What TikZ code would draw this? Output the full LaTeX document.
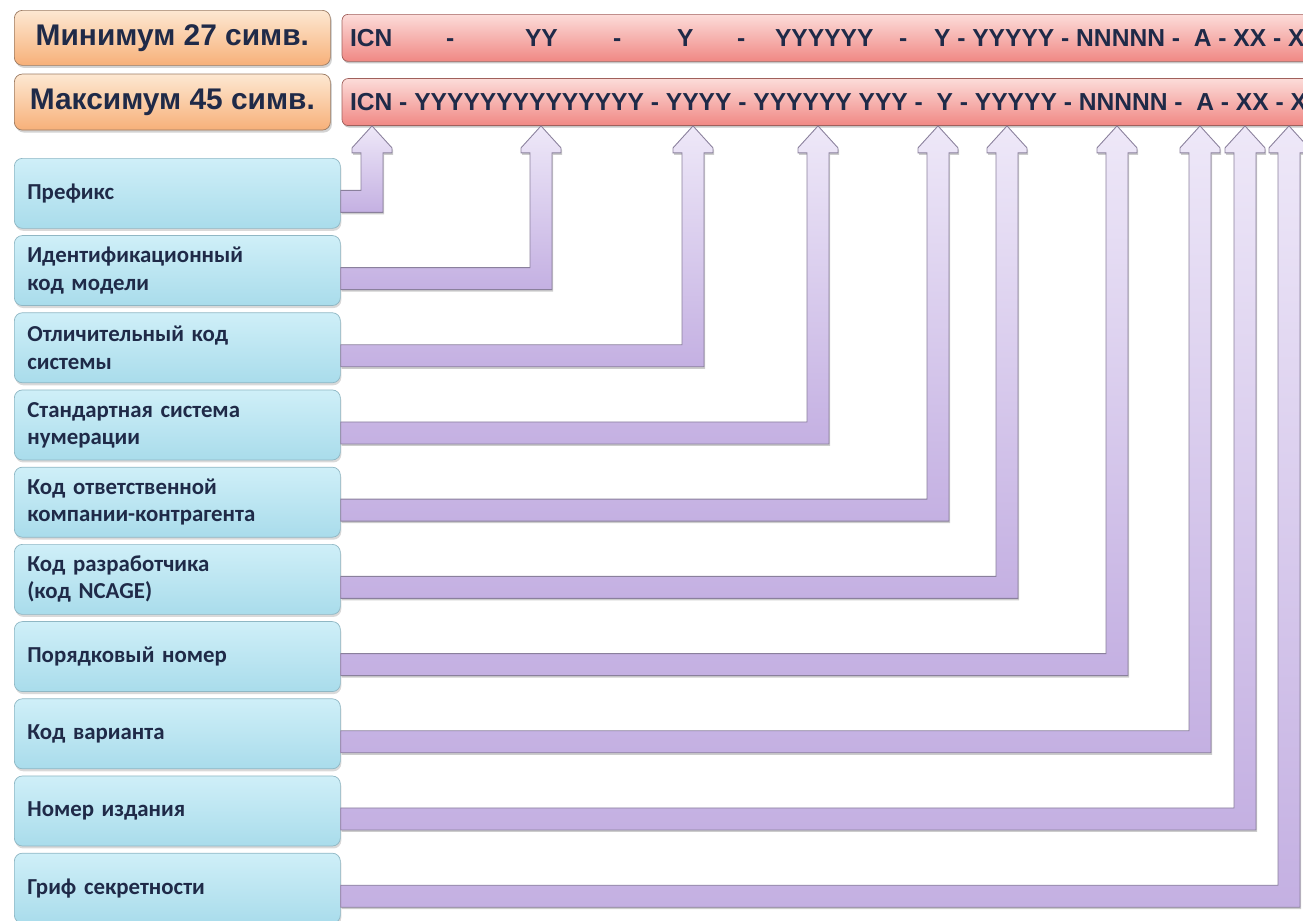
\documentclass[tikz,border=0pt]{standalone}
\usepackage{fontspec}
\setmainfont{Liberation Sans}
\newfontfamily\calibri[WordSpace=0.8]{Carlito}
\usetikzlibrary{positioning,calc,shadows}

\definecolor{inkblue}{HTML}{1F2A48}
\definecolor{lenline}{HTML}{9C7B62}
\definecolor{lentop}{HTML}{FDE8D2}
\definecolor{lenbot}{HTML}{F7B079}
\definecolor{codeline}{HTML}{A0605C}
\definecolor{codetop}{HTML}{FCDCD9}
\definecolor{codebot}{HTML}{F08884}
\definecolor{partline}{HTML}{8FB7C4}
\definecolor{parttop}{HTML}{CFEFF8}
\definecolor{partbot}{HTML}{A9DCEB}
\definecolor{arrline}{HTML}{8A809C}
\definecolor{arrtop}{HTML}{EEE8F8}
\definecolor{arrbot}{HTML}{C4B0E2}

\begin{document}
\begin{tikzpicture}[x=0.2mm, y=-0.2mm,
    lenbox/.style={draw=lenline, rounded corners=1.6mm, top color=lentop, bottom color=lenbot,
      minimum width=63.2mm, minimum height=11mm, text=inkblue,
      font=\fontsize{17}{20}\selectfont\bfseries,
      drop shadow={shadow xshift=0.3mm, shadow yshift=-0.5mm, opacity=0.35}},
    codebar/.style={draw=codeline, rounded corners=1.2mm, top color=codetop, bottom color=codebot,
      minimum width=197.8mm, minimum height=9.4mm, inner xsep=1.6mm, text=inkblue,
      font=\fontsize{14}{16}\selectfont\bfseries,
      drop shadow={shadow xshift=0.2mm, shadow yshift=-0.4mm, opacity=0.45}},
    partbox/.style={draw=partline, rounded corners=1.6mm, top color=parttop, bottom color=partbot,
      minimum height=14mm, text width=60mm, align=left, inner xsep=2.6mm, text=inkblue,
      font=\calibri\bfseries\fontsize{13}{15.4}\selectfont,
      drop shadow={shadow xshift=0.2mm, shadow yshift=-0.5mm, opacity=0.3}},
    icnarrow/.style={draw=arrline, line width=0.5pt, top color=arrtop, bottom color=arrbot,
      drop shadow={shadow xshift=0.2mm, shadow yshift=-0.4mm, opacity=0.4},
      to path={let \p1=(\tikztostart), \p2=(\tikztotarget) in
        (\x1,\y1+0.6mm) -- (\x2-2.2mm,\y1+0.6mm) -- (\x2-2.2mm,\y2-5.4mm) -- (\x2-4mm,\y2-5.4mm)
        -- (\x2-4mm,\y2-4.4mm) -- (\x2,\y2) -- (\x2+4mm,\y2-4.4mm) -- (\x2+4mm,\y2-5.4mm)
        -- (\x2+2.2mm,\y2-5.4mm) -- (\x2+2.2mm,\y1-3.8mm) -- (\x1,\y1-3.8mm) -- cycle}}]
  \useasboundingbox (0,0) rectangle (1303,920);

  % length of the code
  \node[lenbox, anchor=north west] (min) at (14,10) {Минимум 27 симв.};
  \node[lenbox, below=1.6mm of min, minimum height=11.2mm] (max) {Максимум 45 симв.};
  \node[codebar, right=2.2mm of min] (code1) {\makebox[194.6mm][l]{\rlap{ICN}\hspace{19.2mm}\rlap{-}\hspace{15.8mm}\rlap{YY}\hspace{17.6mm}\rlap{-}\hspace{12.8mm}\rlap{Y}\hspace{12mm}\rlap{-}\hspace{7.6mm}\rlap{YYYYYY}\hspace{24.8mm}\rlap{-}\hspace{7mm}Y - YYYYY - NNNNN -~ A - XX - X}};
  \node[codebar, right=2.2mm of max] (code2) {\makebox[194.6mm][l]{ICN - YYYYYYYYYYYYYY - YYYY - YYYYYY YYY -~ Y - YYYYY - NNNNN -~ A - XX - X}};

  % parts of the code
  \node[partbox, anchor=north west] (prefix) at (14,158) {Префикс};
  \node[partbox, below=1.3mm of prefix] (model) {Идентификационный\\код модели};
  \node[partbox, below=1.3mm of model] (sysdiff) {Отличительный код\\системы};
  \node[partbox, below=1.3mm of sysdiff] (sns) {Стандартная система\\нумерации};
  \node[partbox, below=1.3mm of sns] (rpc) {Код ответственной\\компании-контрагента};
  \node[partbox, below=1.3mm of rpc] (orig) {Код разработчика\\(код NCAGE)};
  \node[partbox, below=1.3mm of orig] (uid) {Порядковый номер};
  \node[partbox, below=1.3mm of uid] (variant) {Код варианта};
  \node[partbox, below=1.3mm of variant] (issue) {Номер издания};
  \node[partbox, below=1.3mm of issue] (security) {Гриф секретности};

  % where the arrows point
  \coordinate (at-prefix) at (372,0 |- code2.south);
  \coordinate (at-model) at (541,0 |- code2.south);
  \coordinate (at-sysdiff) at (693,0 |- code2.south);
  \coordinate (at-sns) at (818,0 |- code2.south);
  \coordinate (at-rpc) at (938,0 |- code2.south);
  \coordinate (at-orig) at (1007,0 |- code2.south);
  \coordinate (at-uid) at (1117,0 |- code2.south);
  \coordinate (at-variant) at (1200,0 |- code2.south);
  \coordinate (at-issue) at (1245,0 |- code2.south);
  \coordinate (at-security) at (1289,0 |- code2.south);

  \draw[icnarrow] (prefix.east) to (at-prefix);
  \draw[icnarrow] (model.east) to (at-model);
  \draw[icnarrow] (sysdiff.east) to (at-sysdiff);
  \draw[icnarrow] (sns.east) to (at-sns);
  \draw[icnarrow] (rpc.east) to (at-rpc);
  \draw[icnarrow] (orig.east) to (at-orig);
  \draw[icnarrow] (uid.east) to (at-uid);
  \draw[icnarrow] (variant.east) to (at-variant);
  \draw[icnarrow] (issue.east) to (at-issue);
  \draw[icnarrow] (security.east) to (at-security);
\end{tikzpicture}
\end{document}
